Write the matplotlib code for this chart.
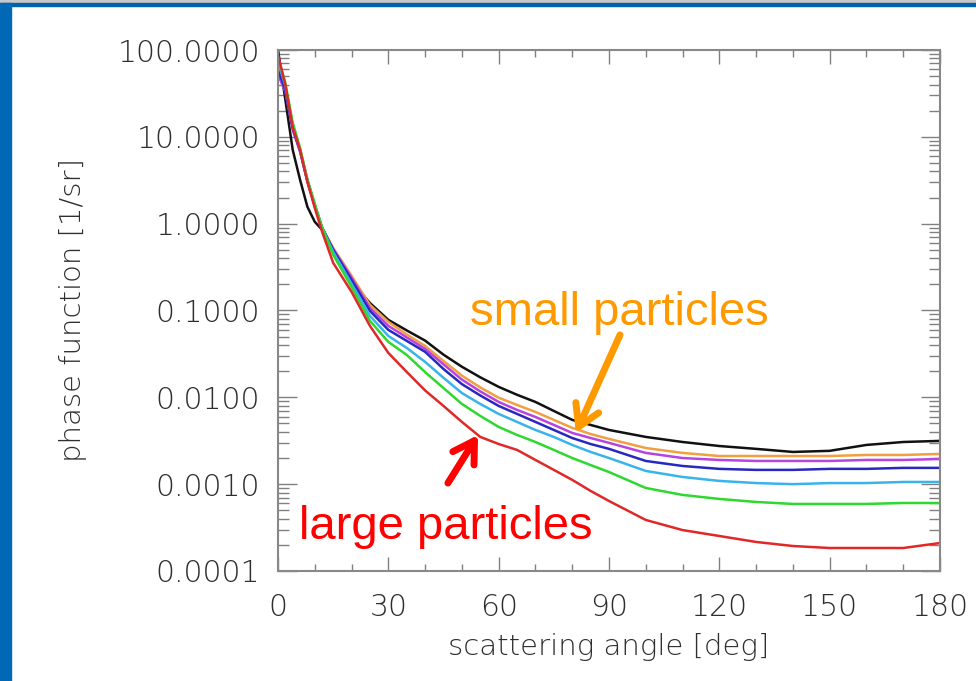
import matplotlib
matplotlib.use("Agg")
import matplotlib.pyplot as plt
from matplotlib.patches import Rectangle
from matplotlib.ticker import FixedLocator, LogLocator, NullFormatter, FormatStrFormatter

# angulos de dispersion [deg]
angulos = [0, 2, 4, 6, 8, 10, 12, 15, 20, 25, 30, 35, 40, 45, 50, 55, 60, 65, 70,
           75, 80, 85, 90, 100, 110, 120, 130, 140, 150, 160, 170, 180]

# funcion de fase [1/sr]
negro = [100, 26.7, 7.08, 3.20, 1.56, 1.05, 0.85, 0.473, 0.214, 0.122, 0.078, 0.059,
         0.045, 0.031, 0.0225, 0.0170, 0.0132, 0.0107, 0.00885, 0.00697, 0.00550,
         0.00481, 0.00421, 0.00350, 0.00306, 0.00275, 0.00255, 0.00235, 0.00242,
         0.00283, 0.00306, 0.00315]
naranja = [81.3, 39.7, 13.0, 7.08, 3.20, 1.65, 0.895, 0.526, 0.251, 0.116, 0.074, 0.0530,
           0.0391, 0.0262, 0.0178, 0.0130, 0.00990, 0.00817, 0.00679, 0.00550, 0.00445,
           0.00378, 0.00332, 0.00261, 0.00229, 0.00211, 0.00211, 0.00211, 0.00211,
           0.00217, 0.00217, 0.00223]
magenta = [51.8, 33.0, 12.0, 6.72, 3.03, 1.60, 0.895, 0.513, 0.238, 0.107, 0.0665, 0.0490,
           0.0361, 0.0240, 0.0160, 0.0117, 0.00885, 0.00716, 0.00594, 0.00481, 0.00389,
           0.00340, 0.00299, 0.00229, 0.00200, 0.00190, 0.00185, 0.00185, 0.00185,
           0.00190, 0.00190, 0.00195]
azul = [59.2, 34.8, 12.7, 6.90, 3.11, 1.60, 0.895, 0.499, 0.225, 0.0988, 0.0598, 0.0447,
        0.0334, 0.0212, 0.0142, 0.0105, 0.00796, 0.00644, 0.00521, 0.00421, 0.00340,
        0.00290, 0.00255, 0.00185, 0.00162, 0.00150, 0.00146, 0.00146, 0.00150,
        0.00150, 0.00154, 0.00154]
cian = [73.1, 38.7, 13.7, 7.08, 3.20, 1.65, 0.895, 0.473, 0.203, 0.0867, 0.0509, 0.0371,
        0.0256, 0.0168, 0.0112, 0.00839, 0.00644, 0.00521, 0.00421, 0.00350, 0.00283,
        0.00235, 0.00200, 0.00142, 0.00121, 0.00109, 0.00103, 0.00100, 0.00103,
        0.00103, 0.00106, 0.00106]
verde = [81.3, 41.9, 14.5, 7.46, 3.20, 1.69, 0.895, 0.438, 0.187, 0.0759, 0.0435, 0.0308,
         0.0195, 0.0128, 0.00839, 0.00611, 0.00456, 0.00369, 0.00306, 0.00248, 0.00200,
         0.00166, 0.00138, 0.000904, 0.000752, 0.000676, 0.000624, 0.000592, 0.000592,
         0.000592, 0.000607, 0.000607]
rojo = [88.1, 39.7, 13.0, 7.08, 3.03, 1.52, 0.806, 0.354, 0.164, 0.0665, 0.0325, 0.0196,
        0.0120, 0.00796, 0.00521, 0.00350, 0.00290, 0.00248, 0.00190, 0.00146, 0.00112,
        0.000836, 0.000640, 0.000387, 0.000296, 0.000253, 0.000216, 0.000194,
        0.000184, 0.000184, 0.000184, 0.000210]

curvas = [negro, naranja, magenta, azul, cian, verde, rojo]
colores = ["#111111", "#f0a040", "#b844e0", "#2828c0", "#38b4ea", "#2ed82e", "#e02828"]

xticks = [0, 30, 60, 90, 120, 150, 180]
yticks = [1e-4, 1e-3, 1e-2, 1e-1, 1, 10, 100]

fig = plt.figure(figsize=(9.76, 6.81), dpi=100)
# marco azul de la diapositiva
fig.patches.append(Rectangle((0, 1 - 3/681), 1, 3/681, transform=fig.transFigure,
                             color="#c8c8c8", zorder=0))
fig.patches.append(Rectangle((0, 1 - 6/681), 1, 3/681, transform=fig.transFigure,
                             color="#0062aa", zorder=0))
fig.patches.append(Rectangle((0, 0), 11/976, 1 - 3/681, transform=fig.transFigure,
                             color="#0068b4", zorder=0))

ax = fig.add_axes([278/976, 1 - 571/681, 662/976, 521/681])
for datos, c in zip(curvas, colores):
    ax.plot(angulos, datos, color=c, lw=1.8)

ax.set_yscale("log")
ax.set_xlim(0, 180)
ax.set_ylim(1e-4, 100)

fuente = dict(family="DejaVu Sans", color="#2e2e2e", fontweight="light")
ax.xaxis.set_major_locator(FixedLocator(xticks))
ax.xaxis.set_minor_locator(FixedLocator(range(0, 181, 10)))
ax.yaxis.set_major_locator(FixedLocator(yticks))
ax.yaxis.set_minor_locator(LogLocator(base=10, subs=range(2, 10)))
ax.yaxis.set_minor_formatter(NullFormatter())
ax.yaxis.set_major_formatter(FormatStrFormatter("%.4f"))
ax.tick_params(which="both", direction="in", top=True, right=True, color="#808080",
               labelsize=21.5, labelcolor="#2e2e2e", width=1)
ax.tick_params(axis="x", which="major", length=10, pad=16)
ax.tick_params(axis="x", which="minor", length=5)
ax.tick_params(axis="y", which="major", length=14, pad=13)
ax.tick_params(axis="y", which="minor", length=8)
for lab in ax.get_xticklabels() + ax.get_yticklabels():
    lab.set_fontweight("light")
for s in ax.spines.values():
    s.set_color("#888888")
    s.set_linewidth(1.5)

ax.set_xlabel("scattering angle [deg]", fontsize=21, labelpad=8, **fuente)
ax.set_ylabel("phase function [1/sr]", fontsize=21, labelpad=22, **fuente)

ax.text(92.7, 0.094, "small particles", color="#ff9900", fontsize=34,
        family="Liberation Sans", ha="center", va="center")
ax.text(45.7, 0.00032, "large particles", color="#ff0000", fontsize=34,
        family="Liberation Sans", ha="center", va="center")
ax.annotate("", xy=(81.0, 0.0039), xytext=(93.0, 0.0524),
            arrowprops=dict(arrowstyle="->,head_length=0.75,head_width=0.45",
                            mutation_scale=20, color="#ff9900", lw=5,
                            shrinkA=0, shrinkB=0))
ax.annotate("", xy=(54.4, 0.00369), xytext=(46.2, 0.00103),
            arrowprops=dict(arrowstyle="->,head_length=0.75,head_width=0.45",
                            mutation_scale=20, color="#ff0000", lw=5,
                            shrinkA=0, shrinkB=0))

fig.savefig("out.png", dpi=100)
